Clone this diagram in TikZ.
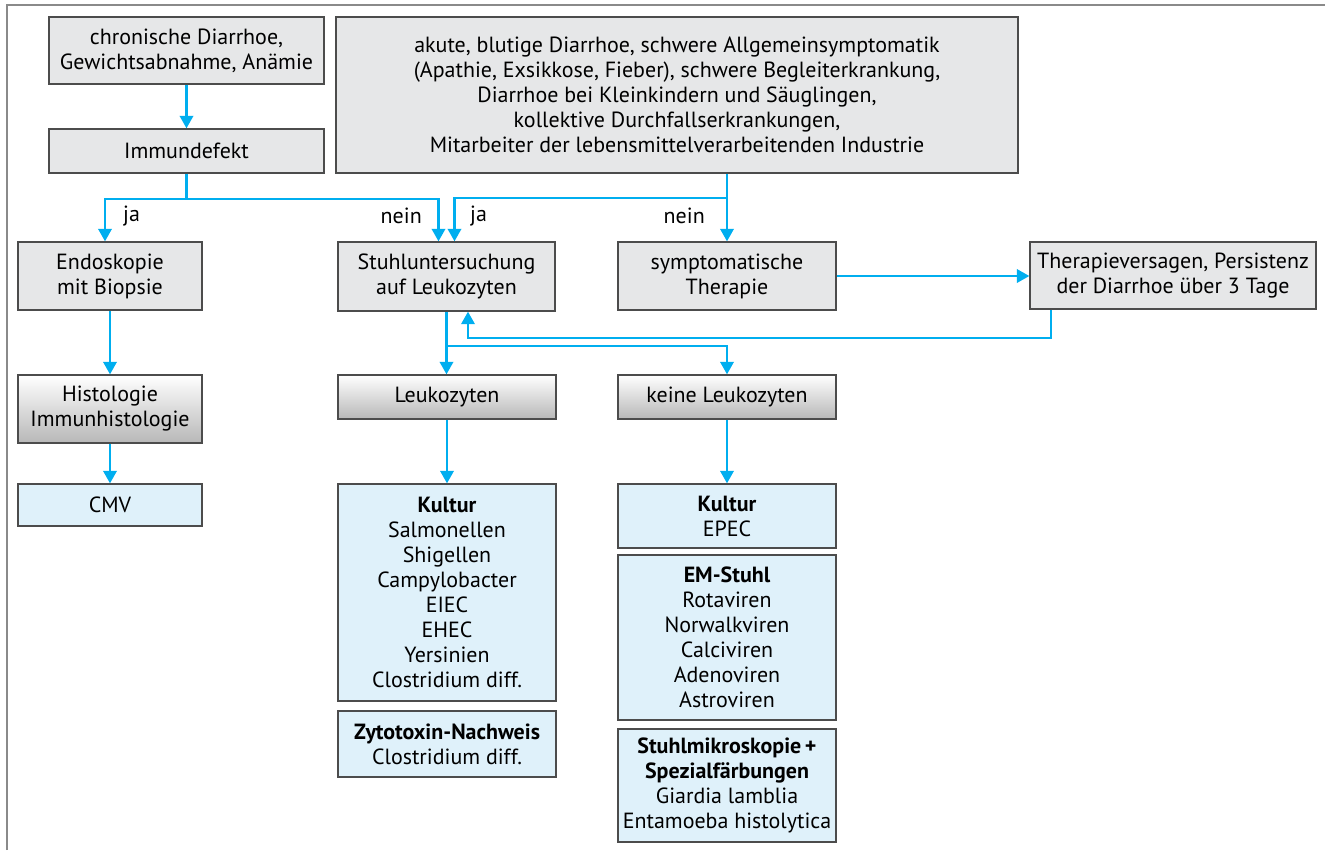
\documentclass[tikz,border=0pt]{standalone}
\usepackage{fontspec}
\setmainfont{PT Sans}
\usetikzlibrary{arrows.meta}
\definecolor{boxgray}{HTML}{E6E7E8}
\definecolor{boxblue}{HTML}{DFF1FA}
\definecolor{arrowblue}{HTML}{00AEEF}
\definecolor{framegray}{HTML}{8A8A8A}
\tikzset{
  box/.style={draw=black!70, line width=0.8pt, fill=boxgray, align=center, inner sep=2pt,
    font=\fontsize{12.5}{14.2}\selectfont},
  shadebox/.style={box, top color=white, bottom color=black!28},
  findbox/.style={box, fill=boxblue},
  line/.style={draw=arrowblue, line width=1.2pt},
  arr/.style={line, -{Triangle[length=0.25cm,width=0.27cm]}},
  lbl/.style={font=\fontsize{12.5}{14.2}\selectfont}
}

\begin{document}
\begin{tikzpicture}[x=0.02cm, y=-0.02cm]
  \useasboundingbox (0,0) rectangle (1325,850);
  \draw[framegray, line width=0.6pt] (7,850) -- (7,5) -- (1325,5);
  % first row
  \node[box, minimum width=5.5cm, minimum height=1.34cm] (chron) at (186.5,50.5) {chronische Diarrhoe,\\Gewichtsabnahme, Anämie};
  \node[box, minimum width=5.5cm, minimum height=0.88cm] (immun) at (186.5,151) {Immundefekt};
  \node[box, minimum width=13.64cm, minimum height=3.12cm] (akute) at (677,95)
    {akute, blutige Diarrhoe, schwere Allgemeinsymptomatik\\(Apathie, Exsikkose, Fieber), schwere Begleiterkrankung,\\Diarrhoe bei Kleinkindern und Säuglingen,\\kollektive Durchfallserkrankungen,\\Mitarbeiter der lebensmittelverarbeitenden Industrie};
  % second row
  \node[box, minimum width=3.68cm, minimum height=1.36cm] (endo) at (110,276) {Endoskopie\\mit Biopsie};
  \node[box, minimum width=4.34cm, minimum height=1.38cm] (stuhl) at (446.5,276.5) {Stuhluntersuchung\\auf Leukozyten};
  \node[box, minimum width=4.36cm, minimum height=1.36cm] (sympt) at (727,276) {symptomatische\\Therapie};
  \node[box, minimum width=5.72cm, minimum height=1.34cm] (thver) at (1173,275.5) {Therapieversagen, Persistenz\\der Diarrhoe über 3 Tage};
  % third row
  \node[shadebox, minimum width=3.68cm, minimum height=1.36cm] (histo) at (110,409) {Histologie\\Immunhistologie};
  \node[shadebox, minimum width=4.36cm, minimum height=0.88cm] (leuko) at (447,397) {Leukozyten};
  \node[shadebox, minimum width=4.36cm, minimum height=0.88cm] (keine) at (727,397) {keine Leukozyten};
  % findings
  \node[findbox, minimum width=3.68cm, minimum height=0.84cm] (cmv) at (110,505) {CMV};
  \node[findbox, minimum width=4.36cm, minimum height=4.34cm] (kult1) at (447,592.5)
    {\textbf{Kultur}\\Salmonellen\\Shigellen\\Campylobacter\\EIEC\\EHEC\\Yersinien\\Clostridium diff.};
  \node[findbox, minimum width=4.36cm, minimum height=1.32cm] (zyto) at (447,744) {\textbf{Zytotoxin-Nachweis}\\Clostridium diff.};
  \node[findbox, minimum width=4.36cm, minimum height=1.28cm] (kult2) at (727,516) {\textbf{Kultur}\\EPEC};
  \node[findbox, minimum width=4.36cm, minimum height=3.3cm] (emst) at (727,637.5)
    {\textbf{EM-Stuhl}\\Rotaviren\\Norwalkviren\\Calciviren\\Adenoviren\\Astroviren};
  \node[findbox, minimum width=4.36cm, minimum height=2.26cm] (mikro) at (727,785.5)
    {\textbf{Stuhlmikroskopie\,+}\\\textbf{Spezialfärbungen}\\Giardia lamblia\\Entamoeba histolytica};
  % labels
  \node[lbl, anchor=west] (ja1) at (117,216) {ja};
  \node[lbl, anchor=east] (nein1) at (428,216) {nein};
  \node[lbl, anchor=west] (ja2) at (464,216) {ja};
  \node[lbl, anchor=east] (nein2) at (711,216) {nein};
  % connectors
  \draw[arr] (chron) -- (immun);
  \draw[line] (immun.south) -- ++(0,25) coordinate (jn1);
  \draw[arr] (jn1) -| ([xshift=-0.1cm]endo.north);
  \draw[arr] (jn1) -| ([xshift=-0.16cm]stuhl.north);
  \draw[arr] (akute.south -| sympt.north) -- (sympt.north);
  \coordinate (jn2) at ([yshift=-0.48cm]akute.south -| sympt.north);
  \draw[arr] (jn2) -| ([xshift=0.16cm]stuhl.north);
  \draw[arr] (sympt.east) -- (sympt.east -| thver.west);
  \draw[arr] ([xshift=-2.44cm]thver.south) -- ++(0,28) -| ([xshift=0.43cm]stuhl.south);
  \draw[line] (stuhl.south) -- ++(0,34) coordinate (jn3);
  \draw[arr] (jn3) -- (jn3 |- leuko.north);
  \draw[arr] (jn3) -| (keine.north);
  \draw[arr] (endo) -- (histo);
  \draw[arr] (histo) -- (cmv);
  \draw[arr] (leuko) -- (kult1);
  \draw[arr] (keine) -- (kult2);
\end{tikzpicture}
\end{document}
